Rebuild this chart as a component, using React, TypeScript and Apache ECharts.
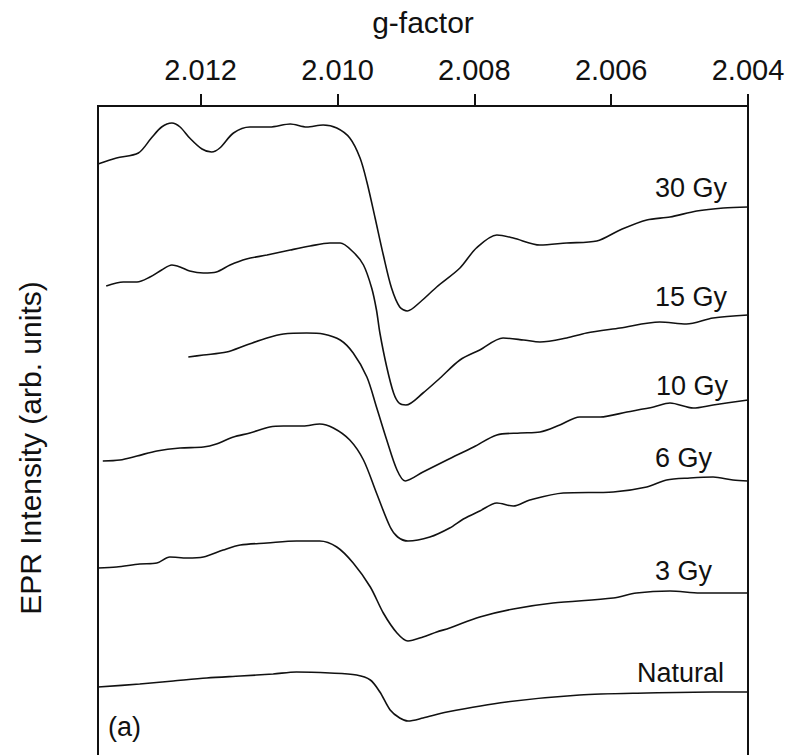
import React, { useEffect, useRef } from "react";
import * as echarts from "echarts";

// g-factor tick values (top axis, decreasing to the right)
const gTicks = [2.004, 2.006, 2.008, 2.01, 2.012];

// Each spectrum: [g-factor, EPR intensity (arb. units, with vertical offset)]
const gy30: [number, number][] = [
  [2.0135, 596], [2.01323, 602], [2.01291, 607], [2.01272, 622], [2.01257, 633], [2.01242, 637],
  [2.0123, 633], [2.01216, 622], [2.01198, 611], [2.01184, 608], [2.01172, 612], [2.01152, 627],
  [2.01128, 633], [2.01099, 633], [2.01069, 636], [2.01045, 633], [2.01021, 635], [2.01001, 632],
  [2.00982, 622], [2.00967, 602], [2.00957, 578], [2.00945, 542], [2.00933, 505], [2.00921, 472],
  [2.00909, 453], [2.00898, 449], [2.00879, 458], [2.00855, 473], [2.00821, 492], [2.00797, 512],
  [2.00767, 525], [2.00743, 522], [2.00704, 515], [2.00665, 517], [2.00621, 519], [2.00587, 530],
  [2.00548, 540], [2.00514, 543], [2.00475, 549], [2.00436, 552], [2.004, 553],
];
const gy15: [number, number][] = [
  [2.01338, 474], [2.01313, 478], [2.01293, 478], [2.01274, 483], [2.01257, 490], [2.01242, 495],
  [2.0123, 493], [2.01216, 489], [2.01196, 487], [2.01177, 488], [2.01157, 495], [2.01133, 501],
  [2.01103, 505], [2.01069, 510], [2.0104, 514], [2.01011, 517], [2.00996, 517], [2.00977, 508],
  [2.00962, 495], [2.0095, 472], [2.00943, 450], [2.00938, 427], [2.00928, 393], [2.00918, 367],
  [2.0091, 357], [2.009, 355], [2.00875, 367], [2.0085, 382], [2.00821, 400], [2.00792, 410],
  [2.00758, 422], [2.00728, 420], [2.00704, 418], [2.00665, 422], [2.00636, 427], [2.00587, 432],
  [2.00529, 438], [2.0049, 436], [2.00451, 442], [2.004, 445],
];
const gy10: [number, number][] = [
  [2.01218, 403], [2.01196, 405], [2.01162, 408], [2.01133, 415], [2.01103, 422], [2.01079, 426],
  [2.01045, 427], [2.01021, 426], [2.00996, 420], [2.00977, 407], [2.00957, 383], [2.00943, 353],
  [2.00928, 320], [2.00913, 290], [2.00901, 279], [2.00875, 288], [2.0084, 300], [2.00801, 313],
  [2.00767, 325], [2.00733, 327], [2.00704, 328], [2.00675, 335], [2.00646, 343], [2.00616, 343],
  [2.00577, 348], [2.00538, 353], [2.00514, 357], [2.0048, 352], [2.00451, 355], [2.004, 360],
];
const gy6: [number, number][] = [
  [2.01343, 299], [2.01318, 300], [2.01293, 304], [2.01264, 309], [2.0123, 312], [2.01196, 313],
  [2.01177, 316], [2.01152, 323], [2.01128, 327], [2.01099, 333], [2.01079, 334], [2.0105, 334],
  [2.01026, 336], [2.01006, 332], [2.00982, 320], [2.00962, 300], [2.00943, 267], [2.00923, 233],
  [2.00912, 223], [2.00897, 219], [2.00865, 223], [2.00836, 232], [2.00816, 241], [2.00792, 249],
  [2.00767, 257], [2.00743, 254], [2.00719, 260], [2.0067, 267], [2.00597, 268], [2.00548, 273],
  [2.00519, 280], [2.00485, 282], [2.00451, 283], [2.00422, 280], [2.004, 279],
];
const gy3: [number, number][] = [
  [2.0135, 192], [2.01323, 193], [2.01289, 196], [2.01264, 197], [2.01245, 203], [2.0122, 202],
  [2.01196, 203], [2.01167, 210], [2.01142, 215], [2.01103, 217], [2.0106, 219], [2.01026, 219],
  [2.01001, 213], [2.00977, 197], [2.00952, 173], [2.00933, 147], [2.00913, 127], [2.00897, 119],
  [2.00875, 123], [2.00855, 128], [2.00836, 132], [2.00792, 143], [2.00743, 151], [2.00685, 157],
  [2.00597, 162], [2.00563, 167], [2.00514, 169], [2.0047, 167], [2.00431, 167], [2.004, 167],
];
const natural: [number, number][] = [
  [2.0135, 73], [2.01289, 76], [2.0124, 79], [2.01191, 82], [2.01142, 84], [2.01094, 86],
  [2.0106, 88], [2.01011, 87], [2.00972, 85], [2.00952, 80], [2.00938, 68], [2.00923, 50],
  [2.00909, 42], [2.00897, 39], [2.00875, 42], [2.0084, 48], [2.00753, 58], [2.00646, 65],
  [2.00548, 67], [2.00451, 68], [2.004, 68],
];

const seriesNames = ["30 Gy", "15 Gy", "10 Gy", "6 Gy", "3 Gy", "Natural"];
const seriesData = [gy30, gy15, gy10, gy6, gy3, natural];

const FONT = "'Liberation Sans', Arial, Helvetica, sans-serif";
const INK = "#111";

// curve label placements (pixel layout)
const labelPos: { x: number; y: number }[] = [
  { x: 655, y: 188 },
  { x: 655, y: 297 },
  { x: 656, y: 386 },
  { x: 655, y: 458 },
  { x: 655, y: 571 },
  { x: 637, y: 673 },
];

export default function App() {
  const ref = useRef<HTMLDivElement>(null);
  useEffect(() => {
    if (!ref.current) return;
    const chart = echarts.init(ref.current, undefined, { renderer: "svg" });
    chart.setOption({
      animation: false,
      backgroundColor: "#fff",
      grid: {
        left: 98,
        right: 41,
        top: 106,
        bottom: -35,
        outerBoundsMode: "none",
        containLabel: false,
        show: true,
        borderColor: INK,
        borderWidth: 2,
        backgroundColor: "transparent",
      },
      xAxis: {
        type: "value",
        position: "top",
        inverse: true,
        min: 2.004,
        max: 2.0135,
        interval: 0.002,
        name: "g-factor",
        nameLocation: "middle",
        nameGap: 69,
        nameTextStyle: { fontSize: 30, color: INK, fontFamily: FONT },
        axisLine: { show: true, onZero: false, lineStyle: { color: INK, width: 2 } },
        axisTick: {
          show: true,
          inside: false,
          length: 12,
          customValues: gTicks,
          lineStyle: { color: INK, width: 2 },
        },
        axisLabel: {
          show: true,
          customValues: gTicks,
          margin: 22,
          fontSize: 29,
          color: INK,
          fontFamily: FONT,
          formatter: (v: number) => v.toFixed(3),
        },
        splitLine: { show: false },
      },
      yAxis: {
        type: "value",
        min: -30,
        max: 654,
        name: "EPR Intensity (arb. units)",
        nameLocation: "middle",
        nameGap: 53,
        nameRotate: 90,
        nameTextStyle: { fontSize: 30, color: INK, fontFamily: FONT },
        axisLine: { show: false },
        axisTick: { show: false },
        axisLabel: { show: false },
        splitLine: { show: false },
      },
      series: seriesData.map((d, i) => ({
        name: seriesNames[i],
        type: "line",
        data: d,
        showSymbol: false,
        smooth: 0.3,
        lineStyle: { color: INK, width: 1.6 },
      })),
      graphic: [
        ...seriesNames.map((n, i) => ({
          type: "text",
          x: labelPos[i].x,
          y: labelPos[i].y,
          style: {
            text: n,
            fontSize: 27,
            fontFamily: FONT,
            fill: INK,
            verticalAlign: "middle",
          },
        })),
        {
          type: "text",
          x: 108,
          y: 727,
          style: {
            text: "(a)",
            fontSize: 27,
            fontFamily: FONT,
            fill: INK,
            verticalAlign: "middle",
          },
        },
      ],
    });
    return () => chart.dispose();
  }, []);
  return (
    <div
      ref={ref}
      style={{ position: "fixed", left: 0, top: 0, width: 789, height: 755 }}
    />
  );
}
